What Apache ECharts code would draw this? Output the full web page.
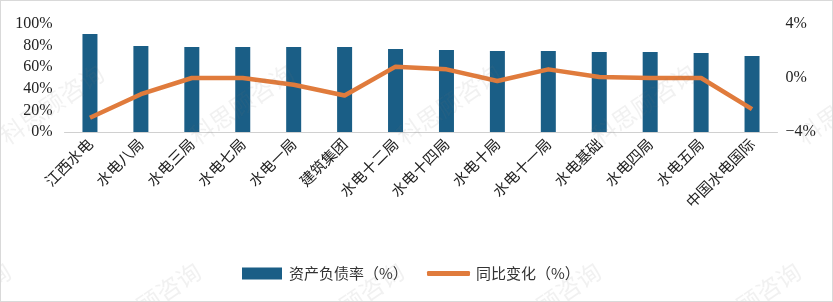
<!DOCTYPE html>
<html><head><meta charset="utf-8">
<script src="https://cdn.jsdelivr.net/npm/echarts@6/dist/echarts.min.js"></script>
<style>html,body{margin:0;padding:0;background:#fff;}#c{width:831px;height:300px;border:1px solid #d9d9d9;}</style>
</head><body><div id="c"></div>
<script>
var categories = ['江西水电','水电八局','水电三局','水电七局','水电一局','建筑集团','水电十二局','水电十四局','水电十局','水电十一局','水电基础','水电四局','水电五局','中国水电国际'];
var debtRatio = [90.7, 79.6, 78.7, 78.7, 78.7, 78.7, 76.9, 75.9, 75.0, 75.0, 74.1, 74.1, 73.1, 70.4];
var yoyChange = [-2.94, -1.2, 0.0, 0.0, -0.5, -1.3, 0.84, 0.64, -0.22, 0.64, 0.07, 0.0, 0.0, -2.3];

var serif = '"Liberation Serif","Noto Sans CJK SC",serif';
var cjk = '"Noto Sans CJK SC",sans-serif';
var chart = echarts.init(document.getElementById('c'));
var wm = [];
var wmPos = [[8,147],[198,147],[405,147],[600,147],[805,147],[-85,345],[105,345],[308,345],[505,345],[705,345]];
wmPos.forEach(function(p){
  wm.push({type:'text', x:p[0], y:p[1], rotation:0.6, silent:true, z:100,
    style:{text:'科思顾咨询', fill:'rgba(120,120,120,0.10)', font:'24px "Noto Sans CJK SC"', textAlign:'left', textVerticalAlign:'bottom'}});
});
chart.setOption({
  animation:false,
  grid:{left:63.5, right:54.5, top:23, bottom:169, containLabel:false},
  legend:[
    {left:241, top:265, padding:0, itemWidth:40, itemHeight:12, itemGap:7,
     textStyle:{fontFamily:cjk, fontSize:15, color:'#333', padding:[0,0,0,2]},
     data:[{name:'资产负债率（%）', icon:'rect'}]},
    {left:426, top:265, padding:0, itemWidth:43, itemHeight:5,
     textStyle:{fontFamily:cjk, fontSize:15, color:'#333', padding:[0,0,0,1]},
     data:[{name:'同比变化（%）', icon:'roundRect'}]}
  ],
  xAxis:{type:'category', data:categories,
    axisLine:{lineStyle:{color:'#d0d0d0', width:1}}, axisTick:{show:false},
    axisLabel:{rotate:45, interval:0, fontFamily:cjk, fontSize:15, color:'#222', margin:9}},
  yAxis:[
    {type:'value', min:0, max:100, interval:20, splitLine:{show:false}, axisLine:{show:false}, axisTick:{show:false},
     axisLabel:{formatter:'{value}%', fontFamily:serif, fontSize:16, color:'#222', margin:12}},
    {type:'value', min:-4, max:4, interval:4, splitLine:{show:false}, axisLine:{show:false}, axisTick:{show:false},
     axisLabel:{formatter:function(v){return (v<0?'−':'')+Math.abs(v)+'%';}, fontFamily:serif, fontSize:16, color:'#222', margin:8}}
  ],
  series:[
    {name:'资产负债率（%）', type:'bar', data:debtRatio, barWidth:15, itemStyle:{color:'#1A5E86'}},
    {name:'同比变化（%）', type:'line', yAxisIndex:1, data:yoyChange, symbol:'none',
     lineStyle:{color:'#E07B3C', width:4.5, join:'round'}, itemStyle:{color:'#E07B3C'}}
  ],
  graphic:wm
});
</script></body></html>
